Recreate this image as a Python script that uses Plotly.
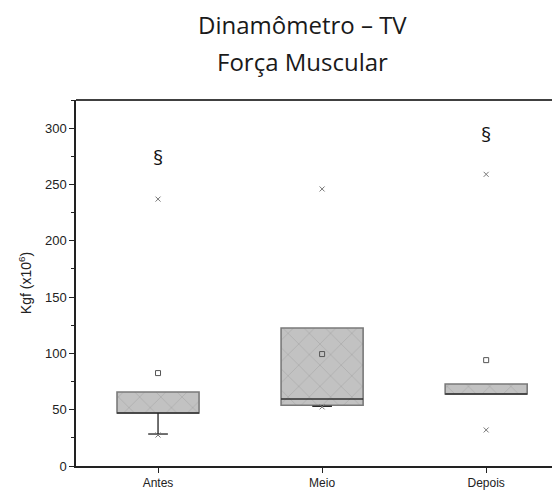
import plotly.graph_objects as go

categories = ["Antes", "Meio", "Depois"]
q1 = [47, 54, 64]
median = [47, 59.5, 64]
q3 = [65.7, 122.5, 72.8]
whisker_low = [28.4, 53, 64]
whisker_high = [65.7, 122.5, 72.8]
mean = [82.5, 99.4, 94]
minimum = [27.5, 52.5, 32]
maximum = [237, 246, 259]
sig_labels = ["§", "", "§"]
sig_y = [274, None, 294.5]
title_lines = ["Dinamômetro – TV", "Força Muscular"]

yticks = [0, 50, 100, 150, 200, 250, 300]

xi = list(range(len(categories)))
bw = 0.5

fig = go.Figure()

# box bodies
fig.add_trace(go.Bar(
    x=xi, y=[b - a for a, b in zip(q1, q3)], base=q1, width=bw,
    marker=dict(color="#c2c2c2",
                line=dict(color="#7a7a7a", width=1.6),
                pattern=dict(shape="x", bgcolor="#c2c2c2", fgcolor="#a6a6a6",
                             size=15, solidity=0.08, fillmode="replace")),
    showlegend=False, hoverinfo="skip"))

# medians, whiskers, caps
for i in xi:
    fig.add_trace(go.Scatter(x=[i - bw / 2, i + bw / 2], y=[median[i], median[i]],
                             mode="lines", line=dict(color="#303030", width=1.5),
                             showlegend=False, hoverinfo="skip"))
    if whisker_low[i] < q1[i]:
        fig.add_trace(go.Scatter(x=[i, i, None, i - 0.06, i + 0.06],
                                 y=[q1[i], whisker_low[i], None, whisker_low[i], whisker_low[i]],
                                 mode="lines", line=dict(color="#222222", width=1.3),
                                 showlegend=False, hoverinfo="skip"))
    if whisker_high[i] > q3[i]:
        fig.add_trace(go.Scatter(x=[i, i, None, i - 0.06, i + 0.06],
                                 y=[q3[i], whisker_high[i], None, whisker_high[i], whisker_high[i]],
                                 mode="lines", line=dict(color="#222222", width=1.3),
                                 showlegend=False, hoverinfo="skip"))

# mean markers
fig.add_trace(go.Scatter(x=xi, y=mean, mode="markers",
                         marker=dict(symbol="square-open", size=5, color="#555555",
                                     line=dict(width=1)),
                         showlegend=False, hoverinfo="skip"))
# min / max markers
fig.add_trace(go.Scatter(x=xi + xi, y=minimum + maximum, mode="markers",
                         marker=dict(symbol="x-thin-open", size=5, color="#777777",
                                     line=dict(width=1, color="#777777")),
                         showlegend=False, hoverinfo="skip"))

for i in xi:
    if sig_labels[i]:
        fig.add_annotation(x=i, y=sig_y[i], text=sig_labels[i], showarrow=False,
                           font=dict(family="Open Sans", size=20, color="#111111"))

# title as two centred lines
for line, yp in zip(title_lines, [1.205, 1.105]):
    fig.add_annotation(xref="paper", yref="paper", x=0.467, y=yp, text=line,
                       showarrow=False, xanchor="center", yanchor="middle",
                       font=dict(family="Open Sans", size=24, color="#1a1a1a"))

# page body adds an 8px offset, so the figure is drawn 8px smaller
fig.update_layout(
    width=552, height=483,
    margin=dict(l=68, r=0, t=92, b=25),
    plot_bgcolor="white", paper_bgcolor="white",
    barmode="overlay",
    font=dict(family="Liberation Sans, Arial", size=12, color="#222222"),
)
fig.update_xaxes(
    range=[-0.5, 2.45], tickmode="array", tickvals=xi, ticktext=categories,
    showline=True, linecolor="#222222", linewidth=1.5, mirror=False,
    ticks="outside", ticklen=5, tickcolor="#222222", showgrid=False, zeroline=False,
    tickfont=dict(size=12), automargin=False,
)
fig.update_yaxes(
    range=[0, 325], tickmode="array", tickvals=yticks,
    showline=True, linecolor="#222222", linewidth=1.5,
    ticks="outside", ticklen=5, tickcolor="#222222", showgrid=False, zeroline=False,
    minor=dict(tickvals=[25, 75, 125, 175, 225, 275, 325], ticks="outside", ticklen=3,
               tickcolor="#222222"),
    title=dict(text="Kgf (x10<sup>6</sup>)", font=dict(size=14), standoff=10),
    tickfont=dict(size=13), automargin=False,
)
# top border line
fig.add_shape(type="line", xref="paper", yref="paper", x0=0, x1=1, y0=1, y1=1,
              line=dict(color="#404040", width=2))

fig.write_html("out.html")
